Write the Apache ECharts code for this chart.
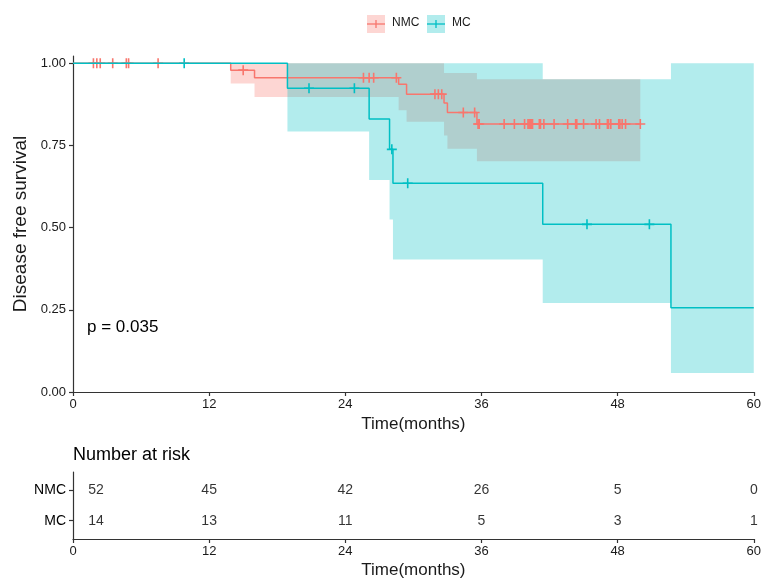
<!DOCTYPE html>
<html><head><meta charset="utf-8">
<script src="https://cdn.jsdelivr.net/npm/echarts@6/dist/echarts.min.js"></script>
<style>html,body{margin:0;padding:0;background:#fff}#c{width:764px;height:583px}</style>
</head><body><div id="c"></div>
<script>
// ---------- data ----------
const groups = ['NMC', 'MC'];
const xTicks = [0, 12, 24, 36, 48, 60];
const yTicks = [0, 0.25, 0.5, 0.75, 1];

const nmcTime  = [0, 13.9, 16.0, 28.7, 29.4, 32.7, 33.0, 35.6, 50.0];
const nmcSurv  = [1, 0.979, 0.956, 0.936, 0.906, 0.879, 0.850, 0.815, 0.815];
const nmcLower = [1, 0.938, 0.897, 0.857, 0.822, 0.78, 0.74, 0.702, 0.702];
const nmcUpper = [1, 1, 1, 1, 1, 0.97, 0.97, 0.951, 0.951];
const nmcCensor = [1.8, 2.1, 2.4, 3.5, 4.7, 4.9, 7.5, 15.0,
  25.6, 26.1, 26.5, 28.5, 31.9, 32.2, 32.5, 34.4, 35.4, 35.7, 35.8,
  38.0, 38.9, 39.8, 40.1, 40.2, 40.3, 40.4, 40.5, 41.1, 41.2, 41.5, 42.4, 43.6, 44.3, 44.4,
  45.0, 46.1, 46.4, 47.1, 47.2, 47.4, 48.1, 48.2, 48.4, 48.7, 50.0];

const mcTime  = [0, 18.9, 26.1, 27.9, 28.2, 41.4, 52.7, 60];
const mcSurv  = [1, 0.924, 0.830, 0.738, 0.635, 0.510, 0.256, 0.256];
const mcLower = [1, 0.792, 0.645, 0.525, 0.403, 0.271, 0.058, 0.058];
const mcUpper = [1, 1, 1, 1, 1, 0.951, 1, 1];
const mcCensor = [9.8, 20.8, 24.8, 28.1, 29.5, 45.3, 50.8];

const riskTimes = [0, 12, 24, 36, 48, 60];
const nmcRisk = [52, 45, 42, 26, 5, 0];
const mcRisk  = [14, 13, 11, 5, 3, 1];
const pText = 'p = 0.035';

// ---------- styles ----------
const RED = '#F8766D', CYAN = '#00BFC4';
const RED_FILL = 'rgba(248,118,109,0.3)', CYAN_FILL = 'rgba(0,191,196,0.3)';
const FONT = 'Liberation Sans, Arial, Helvetica, sans-serif';
const TXT = '#1a1a1a';
const PLUS = 'path://M4.2,0h1.6v4.2h4.2v1.6h-4.2v4.2h-1.6v-4.2h-4.2v-1.6h4.2z';

function survAt(times, surv, t) {
  let v = surv[0];
  for (let i = 0; i < times.length; i++) if (times[i] <= t) v = surv[i];
  return v;
}

function band(name, times, lower, upper, fill) {
  return {
    type: 'custom', name: name + ' CI', xAxisIndex: 0, yAxisIndex: 0, silent: true,
    encode: { x: 0, y: [1, 2] },
    data: times.map((t, i) => [t, lower[i], upper[i]]),
    renderItem: function (params, api) {
      if (params.dataIndex !== 0) return;
      const pts = [];
      const n = times.length;
      for (let i = 0; i < n; i++) {
        const t1 = i < n - 1 ? times[i + 1] : times[i];
        pts.push(api.coord([times[i], upper[i]]), api.coord([t1, upper[i]]));
      }
      for (let i = n - 1; i >= 0; i--) {
        const t1 = i < n - 1 ? times[i + 1] : times[i];
        pts.push(api.coord([t1, lower[i]]), api.coord([times[i], lower[i]]));
      }
      return { type: 'polygon', shape: { points: pts }, style: { fill: fill } };
    }
  };
}
function curve(name, times, surv, color) {
  return {
    type: 'line', name: name, step: 'end', xAxisIndex: 0, yAxisIndex: 0,
    data: times.map((t, i) => [t, surv[i]]), symbol: 'none', silent: true,
    lineStyle: { color: color, width: 1.5 }
  };
}
function censors(name, times, surv, ct, color) {
  return {
    type: 'scatter', name: name + ' censor', xAxisIndex: 0, yAxisIndex: 0, silent: true,
    data: ct.map(t => [t, survAt(times, surv, t)]),
    symbol: PLUS, symbolSize: 10, itemStyle: { color: color, opacity: 1 }
  };
}
function riskRow(vals, row) {
  return {
    type: 'scatter', xAxisIndex: 1, yAxisIndex: 1, silent: true,
    data: riskTimes.map((t, i) => ({
      value: [t, row, vals[i]],
      label: i === 0 ? { offset: [23, 0] } : undefined
    })),
    symbolSize: 1, itemStyle: { color: 'rgba(0,0,0,0)' },
    label: { show: true, position: 'inside', formatter: p => String(p.value[2]),
      fontSize: 14, color: '#000', fontFamily: FONT }
  };
}

const axisLine = { show: true, lineStyle: { color: '#333', width: 1.2 } };
const axisTick = { show: true, length: 4, lineStyle: { color: '#333', width: 1.2 } };

function xAx(gi) {
  return {
    type: 'value', gridIndex: gi, min: 0, max: 60, interval: 12,
    axisLine, axisTick, splitLine: { show: false },
    axisLabel: { fontSize: 13, color: TXT, fontFamily: FONT, margin: 6 },
    name: 'Time(months)', nameLocation: 'middle', nameGap: 23,
    nameTextStyle: { fontSize: 17, color: TXT, fontFamily: FONT }
  };
}

const legendItems = [];
function legendItem(x, label, line, fill) {
  legendItems.push(
    { type: 'rect', left: x, top: 15, shape: { width: 18, height: 18 }, style: { fill: fill } },
    { type: 'line', shape: { x1: x, y1: 24, x2: x + 18, y2: 24 }, style: { stroke: line, lineWidth: 1.3 } },
    { type: 'line', shape: { x1: x + 9, y1: 20, x2: x + 9, y2: 28 }, style: { stroke: line, lineWidth: 1.3 } },
    { type: 'text', left: x + 25, top: 17, style: { text: label, fontSize: 12, fill: TXT, fontFamily: FONT } }
  );
}
legendItem(367, groups[0], RED, RED_FILL);
legendItem(427, groups[1], CYAN, CYAN_FILL);

const chart = echarts.init(document.getElementById('c'), null, { renderer: 'canvas' });
chart.setOption({
  animation: false,
  backgroundColor: '#fff',
  grid: [
    { left: 73, right: 8, top: 56, bottom: 191 },
    { left: 73, right: 8, top: 472, bottom: 44 }
  ],
  xAxis: [xAx(0), xAx(1)],
  yAxis: [
    {
      type: 'value', gridIndex: 0, min: 0, max: 1.022,
      axisLine, axisTick: Object.assign({}, axisTick, { customValues: yTicks }),
      splitLine: { show: false },
      axisLabel: { customValues: yTicks, formatter: v => v.toFixed(2), fontSize: 13, color: TXT, fontFamily: FONT, margin: 7 },
      name: 'Disease free survival', nameLocation: 'middle', nameGap: 43,
      nameTextStyle: { fontSize: 19, color: TXT, fontFamily: FONT }
    },
    {
      type: 'value', gridIndex: 1, min: 0.4, max: 2.6,
      axisLine, axisTick: Object.assign({}, axisTick, { customValues: [1, 2] }),
      splitLine: { show: false },
      axisLabel: { customValues: [1, 2], formatter: v => (v === 2 ? groups[0] : groups[1]),
        fontSize: 14, color: '#000', fontFamily: FONT, margin: 7 }
    }
  ],
  graphic: legendItems.concat([
    { type: 'text', left: 87, top: 319, style: { text: pText, fontSize: 17, fill: '#000', fontFamily: FONT } },
    { type: 'text', left: 73, top: 446, style: { text: 'Number at risk', fontSize: 18, fill: '#000', fontFamily: FONT } }
  ]),
  series: [
    band('NMC', nmcTime, nmcLower, nmcUpper, RED_FILL),
    curve('NMC', nmcTime, nmcSurv, RED),
    band('MC', mcTime, mcLower, mcUpper, CYAN_FILL),
    curve('MC', mcTime, mcSurv, CYAN),
    censors('NMC', nmcTime, nmcSurv, nmcCensor, RED),
    censors('MC', mcTime, mcSurv, mcCensor, CYAN),
    riskRow(nmcRisk, 2),
    riskRow(mcRisk, 1)
  ]
});
</script></body></html>
